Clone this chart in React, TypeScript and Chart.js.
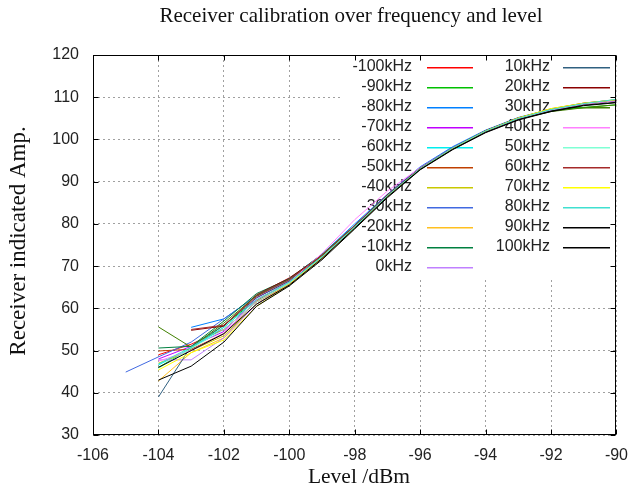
import React, { useEffect, useRef } from "react";
import { Chart, registerables } from "chart.js";

Chart.register(...registerables);

const levels = [-104, -103, -102, -101, -100, -99, -98, -97, -96, -95, -94, -93, -92, -91, -90];
const levels30 = [-105, ...levels];

const sM100 = [49, 51.5, 55, 61.5, 65.8, 72, 79.2, 86.5, 93, 97.8, 101.8, 104.8, 107, 108.4, 109.2];
const sM90 = [46, 50.5, 56, 62, 66.2, 72.4, 79.5, 86.8, 93.2, 98, 102, 105, 106.8, 107.6, 108.2];
const sM80 = [null, 55.5, 57.5, 63, 67, 72.8, 80, 87, 93.5, 98.3, 102.2, 105.2, 107.2, 108.5, 109.3];
const sM70 = [48, 51, 54.5, 62.5, 66.5, 72.5, 79.6, 87, 93.3, 98.1, 102, 105, 107, 108.4, 109.2];
const sM60 = [46.6, 50.5, 55.5, 62, 66, 72, 79, 86.6, 93, 97.8, 101.8, 104.9, 107, 108.5, 109.4];
const sM50 = [49.9, 50.3, 54, 61.8, 66.3, 72.3, 79.4, 86.7, 93.1, 98, 102, 105, 107.1, 108.5, 109.3];
const sM40 = [47, 50, 53.5, 61, 65.8, 72, 79.3, 86.6, 93, 97.9, 101.9, 105, 107.2, 108.5, 109.3];
const sM30 = [44.9, 48.5, 52, 57.5, 63, 67, 72.6, 79.6, 86.9, 93.3, 98.1, 102, 105, 107, 108.4, 109.2];
const sM20 = [42.8, 49.5, 53, 61, 65.8, 72, 79.3, 86.6, 93, 97.9, 101.9, 105, 107.3, 108.6, 109.4];
const sM10 = [50.6, 51, 57, 63.5, 67, 72.8, 79.6, 86.9, 93.2, 98, 102, 105, 107, 108.4, 109.2];
const s0 = [47.8, 47.8, 53, 61, 65.5, 71.8, 79.2, 86.5, 93, 97.8, 101.8, 104.9, 107, 108.4, 109.2];
const s10 = [39, 51, 56, 62.5, 66.5, 72.4, 79.5, 86.8, 93.2, 98, 102, 105, 107, 108.5, 109.3];
const s20 = [null, 54.8, 55.8, 63.2, 67.2, 72.5, 79.5, 86.8, 93.2, 98, 102.1, 105.1, 107.1, 108.5, 109.3];
const s30 = [55.6, 50.8, 56.5, 63, 66.8, 72.5, 79.5, 86.8, 93.1, 97.9, 101.9, 104.9, 106.6, 107.5, 108.2];
const s40 = [47.5, 50, 54, 62, 66.2, 73, 81, 87.8, 93.3, 98, 101.9, 104.9, 107, 108.4, 109.2];
const s50 = [45.8, 50.5, 55, 61.5, 66, 72.2, 79.3, 86.7, 93.1, 98, 102, 105, 107.1, 108.5, 109.4];
const s60 = [null, 55, 56, 62.8, 66.8, 72.6, 79.6, 86.8, 93.2, 98, 102, 105.1, 107.2, 108.6, 109.4];
const s70 = [45.4, 49.5, 52.5, 60.5, 65.5, 71.8, 79, 86.5, 93, 97.9, 102, 105.1, 107.3, 108.6, 109.4];
const s80 = [46.8, 50.8, 55.5, 62, 66.2, 72.2, 79.3, 86.7, 93.1, 98, 102, 105, 107.1, 108.5, 109.5];
const s90 = [43, 46.3, 52, 60.5, 65.3, 71.5, 78.8, 86.2, 92.8, 97.6, 101.6, 104.6, 106.6, 108, 108.7];
const s100 = [46, 50, 54, 61, 65.5, 71.8, 79, 86.4, 92.9, 97.7, 101.7, 104.7, 106.7, 108.1, 108.8];

const seriesLabels = ["-100kHz", "-90kHz", "-80kHz", "-70kHz", "-60kHz", "-50kHz", "-40kHz", "-30kHz", "-20kHz", "-10kHz", "0kHz",
  "10kHz", "20kHz", "30kHz", "40kHz", "50kHz", "60kHz", "70kHz", "80kHz", "90kHz", "100kHz"];
const seriesColors = ["#ff0000", "#00c000", "#0080ff", "#c000ff", "#00eeee", "#c04000", "#c8c800", "#4169e1", "#ffc020", "#008040", "#c080ff",
  "#306080", "#8b0000", "#408000", "#ff80ff", "#7fffd4", "#a52a2a", "#ffff00", "#40e0d0", "#000000", "#000000"];
const seriesValues = [sM100, sM90, sM80, sM70, sM60, sM50, sM40, sM30, sM20, sM10, s0, s10, s20, s30, s40, s50, s60, s70, s80, s90, s100];
const seriesLevels = seriesValues.map((v) => (v.length === levels30.length ? levels30 : levels));

const titleText = "Receiver calibration over frequency and level";
const xTitle = "Level /dBm";
const yTitle = "Receiver indicated Amp.";

const SANS = "'Liberation Sans', Arial, sans-serif";
const SERIF = "'Liberation Serif', 'Times New Roman', serif";

const gnuplotDecor = {
  id: "gnuplotDecor",
  beforeDatasetsDraw(chart: any) {
    const { ctx, chartArea } = chart;
    ctx.save();
    const kx0 = 342;
    const ky1 = 278;
    ctx.fillStyle = "#ffffff";
    ctx.fillRect(kx0, chartArea.top + 0.5, chartArea.right - kx0, ky1 - chartArea.top);
    ctx.font = `16px ${SANS}`;
    ctx.textAlign = "right";
    ctx.textBaseline = "middle";
    seriesLabels.forEach((lab, i) => {
      const col = i < 11 ? 0 : 1;
      const row = i < 11 ? i : i - 11;
      const y = 67 + row * 20;
      const tx = col === 0 ? 412 : 550;
      const lx0 = col === 0 ? 427 : 563;
      const lx1 = col === 0 ? 473 : 610;
      ctx.fillStyle = "#222222";
      ctx.fillText(lab, tx, y);
      ctx.fillStyle = seriesColors[i];
      ctx.fillRect(lx0, y, lx1 - lx0, 1.5);
    });
    ctx.restore();
  },
  afterDatasetsDraw(chart: any) {
    const { ctx, chartArea, scales } = chart;
    const { left, right, top, bottom } = chartArea;
    ctx.save();
    ctx.strokeStyle = "#000000";
    ctx.lineWidth = 1;
    const L = Math.round(left) + 0.5;
    const R = Math.round(right) - 0.5;
    const T = Math.round(top) + 0.5;
    const B = Math.round(bottom) - 0.5;
    ctx.beginPath();
    const tl = 5;
    scales.x.ticks.forEach((t: any) => {
      const px = Math.round(scales.x.getPixelForValue(t.value)) + 0.5;
      ctx.moveTo(px, B);
      ctx.lineTo(px, B - tl);
      ctx.moveTo(px, T);
      ctx.lineTo(px, T + tl);
    });
    scales.y.ticks.forEach((t: any) => {
      const py = Math.round(scales.y.getPixelForValue(t.value)) + 0.5;
      ctx.moveTo(L, py);
      ctx.lineTo(L + tl, py);
      ctx.moveTo(R, py);
      ctx.lineTo(R - tl, py);
    });
    ctx.stroke();
    ctx.strokeRect(L, T, R - L, B - T);

    ctx.fillStyle = "#111111";
    ctx.textAlign = "center";
    ctx.textBaseline = "alphabetic";
    ctx.font = `21px ${SERIF}`;
    ctx.fillText(titleText, 351, 22);
    ctx.font = `21.5px ${SERIF}`;
    ctx.fillText(xTitle, 359, 483);
    ctx.translate(25, 241);
    ctx.rotate(-Math.PI / 2);
    ctx.font = `23px ${SERIF}`;
    ctx.fillText(yTitle, 0, 0);
    ctx.restore();
  },
};

export default function App() {
  const ref = useRef<HTMLCanvasElement | null>(null);
  useEffect(() => {
    if (!ref.current) return;
    const datasets = seriesValues.map((vals, i) => ({
      label: seriesLabels[i],
      data: seriesLevels[i]
        .map((x, j) => ({ x, y: vals[j] }))
        .filter((p) => p.y !== null && p.y !== undefined),
      borderColor: seriesColors[i],
      backgroundColor: seriesColors[i],
      borderWidth: 1,
      pointRadius: 0,
      showLine: true,
      tension: 0,
      fill: false,
      order: -i,
    }));
    const chart = new Chart(ref.current, {
      type: "scatter",
      data: { datasets },
      plugins: [gnuplotDecor],
      options: {
        animation: false,
        responsive: false,
        maintainAspectRatio: false,
        layout: { padding: { top: 55, right: 10, left: 0, bottom: 0 } },
        plugins: { legend: { display: false }, tooltip: { enabled: false }, title: { display: false } },
        scales: {
          x: {
            type: "linear",
            min: -106,
            max: -90,
            afterFit: (s: any) => { s.height = 51; },
            ticks: { stepSize: 2, color: "#222222", font: { family: SANS, size: 16 }, padding: 11, maxRotation: 0, autoSkip: false },
            grid: { color: "#a0a0a0", lineWidth: 1, drawTicks: false },
            border: { display: false, dash: [2, 3] },
          },
          y: {
            type: "linear",
            min: 30,
            max: 120,
            afterFit: (s: any) => { s.width = 93; },
            ticks: { stepSize: 10, color: "#222222", font: { family: SANS, size: 16 }, padding: 14, autoSkip: false },
            grid: { color: "#a0a0a0", lineWidth: 1, drawTicks: false },
            border: { display: false, dash: [2, 3] },
          },
        },
      },
    } as any);
    return () => chart.destroy();
  }, []);
  return (
    <div style={{ position: "absolute", left: 0, top: 0, width: 639, height: 486, background: "#fff" }}>
      <canvas ref={ref} width={639} height={486} style={{ display: "block" }} />
    </div>
  );
}
